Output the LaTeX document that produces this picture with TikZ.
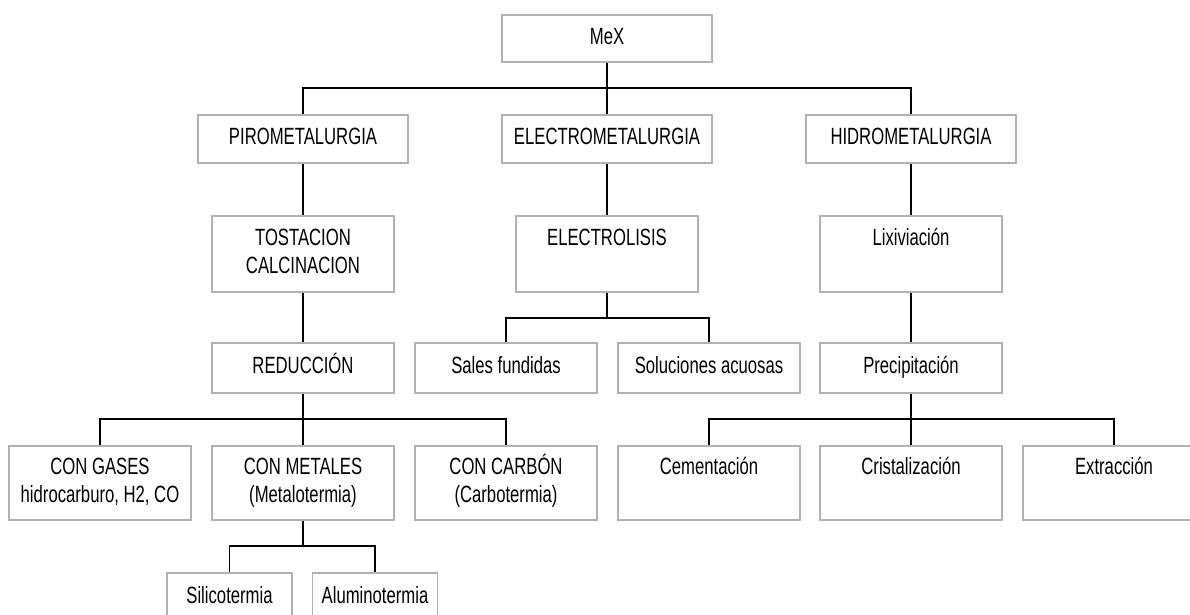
\documentclass[tikz,border=0pt]{standalone}
\usepackage{fontspec}
\setmainfont[FakeStretch=0.71]{Liberation Sans}
\begin{document}
\begin{tikzpicture}[x=1pt,y=-1pt,
  box/.style={draw=boxgray,line width=1.4pt,fill=white,inner sep=0pt,align=center,
    font=\fontsize{23.5}{28}\selectfont},
  wide/.style={box,minimum width=210pt,minimum height=48pt},
  mid/.style={box,minimum width=182pt,minimum height=50pt},
  tall/.style={box,minimum width=182pt,minimum height=76pt},
  deep/.style={box,minimum width=182pt,minimum height=74pt},
  small/.style={box,minimum width=125pt,minimum height=50pt},
  link/.style={draw=black,line width=1.2pt}]
\definecolor{boxgray}{RGB}{178,178,178}
\useasboundingbox (0,0) rectangle (1190,615);
\clip (0,0) rectangle (1190,615);

% top level
\node[wide,minimum height=47pt] (mex) at (607,38.5) {\strut MeX};

% main branches
\node[wide] (piro)  at (303,139) {\strut PIROMETALURGIA};
\node[wide] (elec)  at (607,139) {\strut ELECTROMETALURGIA};
\node[wide] (hidro) at (911,139) {\strut HIDROMETALURGIA};

% second level
\node[tall] (tost) at (303,254) {\strut TOSTACION\\\strut CALCINACION};
\node[tall] (elys) at (607,254) {\strut ELECTROLISIS\\\strut};
\node[tall] (lix)  at (911,254) {\strut Lixiviación\\\strut};

% third level
\node[mid] (red)   at (303,368) {\strut REDUCCIÓN};
\node[mid] (sales) at (506,368) {\strut Sales fundidas};
\node[mid] (sol)   at (709,368) {\strut Soluciones acuosas};
\node[mid] (prec)  at (911,368) {\strut Precipitación};

% reduction agents and precipitation methods
\node[deep] (gas)  at (100,483)  {\strut CON GASES\\\strut hidrocarburo, H2, CO};
\node[deep] (met)  at (303,483)  {\strut CON METALES\\\strut (Metalotermia)};
\node[deep] (carb) at (506,483)  {\strut CON CARBÓN\\\strut (Carbotermia)};
\node[deep] (cem)  at (709,483)  {\strut Cementación\\\strut};
\node[deep] (cris) at (911,483)  {\strut Cristalización\\\strut};
\node[deep] (ext)  at (1114,483) {\strut Extracción\\\strut};

% metallothermy variants
\node[small] (sil) at (229.5,598) {\strut Silicotermia};
\node[small] (alu) at (375,598)   {\strut Aluminotermia};

% junction points of the tree
\coordinate (jtop) at (607,88);
\coordinate (jel)  at (607,318);
\coordinate (jred) at (303,419);
\coordinate (jpre) at (911,419);
\coordinate (jmet) at (303,546);

% connectors
\draw[link] (mex.south) -- (elec.north);
\draw[link] (piro.north) |- (jtop) -| (hidro.north);
\draw[link] (piro.south) -- (tost.north);
\draw[link] (tost.south) -- (red.north);
\draw[link] (elec.south) -- (elys.north);
\draw[link] (hidro.south) -- (lix.north);
\draw[link] (lix.south) -- (prec.north);
\draw[link] (elys.south) -- (jel);
\draw[link] (sales.north) |- (jel) -| (sol.north);
\draw[link] (red.south) -- (met.north);
\draw[link] (gas.north) |- (jred) -| (carb.north);
\draw[link] (prec.south) -- (cris.north);
\draw[link] (cem.north) |- (jpre) -| (ext.north);
\draw[link] (met.south) -- (jmet);
\draw[link] (sil.north) |- (jmet) -| (alu.north);
\end{tikzpicture}
\end{document}
